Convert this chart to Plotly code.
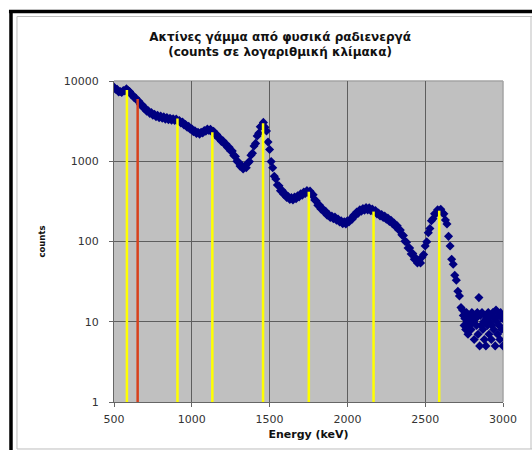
import plotly.graph_objects as go

# ---- data ----
energy_kev = [
    500, 510, 520, 530, 540, 550, 560, 570, 580, 590,
    600, 610, 620, 630, 640, 650, 660, 670, 680, 690,
    700, 710, 720, 730, 740, 750, 760, 770, 780, 790,
    800, 810, 820, 830, 840, 850, 860, 870, 880, 890,
    900, 910, 920, 930, 940, 950, 960, 970, 980, 990,
    1000, 1010, 1020, 1030, 1040, 1050, 1060, 1070, 1080, 1090,
    1100, 1110, 1120, 1130, 1140, 1150, 1160, 1170, 1180, 1190,
    1200, 1210, 1220, 1230, 1240, 1250, 1260, 1270, 1280, 1290,
    1300, 1310, 1320, 1330, 1340, 1350, 1360, 1370, 1380, 1390,
    1400, 1410, 1420, 1430, 1440, 1450, 1460, 1470, 1480, 1490,
    1500, 1510, 1520, 1530, 1540, 1550, 1560, 1570, 1580, 1590,
    1600, 1610, 1620, 1630, 1640, 1650, 1660, 1670, 1680, 1690,
    1700, 1710, 1720, 1730, 1740, 1750, 1760, 1770, 1780, 1790,
    1800, 1810, 1820, 1830, 1840, 1850, 1860, 1870, 1880, 1890,
    1900, 1910, 1920, 1930, 1940, 1950, 1960, 1970, 1980, 1990,
    2000, 2010, 2020, 2030, 2040, 2050, 2060, 2070, 2080, 2090,
    2100, 2110, 2120, 2130, 2140, 2150, 2160, 2170, 2180, 2190,
    2200, 2210, 2220, 2230, 2240, 2250, 2260, 2270, 2280, 2290,
    2300, 2310, 2320, 2330, 2340, 2350, 2360, 2370, 2380, 2390,
    2400, 2410, 2420, 2430, 2440, 2450, 2460, 2470, 2480, 2490,
    2500, 2510, 2520, 2530, 2540, 2550, 2560, 2570, 2580, 2590,
    2600, 2610, 2620, 2630, 2640, 2650, 2660, 2670, 2680, 2690,
    2700, 2710, 2720, 2730, 2740,
    2745, 2750, 2755, 2760, 2765, 2770, 2775, 2780, 2785, 2790,
    2795, 2800, 2805, 2810, 2815, 2820, 2825, 2830, 2835, 2840,
    2845, 2850, 2855, 2860, 2865, 2870, 2875, 2880, 2885, 2890,
    2895, 2900, 2905, 2910, 2915, 2920, 2925, 2930, 2935, 2940,
    2945, 2950, 2955, 2960, 2965, 2970, 2975, 2980, 2985, 2990,
    2995, 3000,
]
counts = [
    8400, 7900, 7900, 7300, 7400, 7200, 7600, 7500, 8000, 7600,
    7400, 6800, 6700, 6200, 6150, 5700, 5600, 5100, 5050, 4600,
    4600, 4200, 4250, 3950, 4050, 3750, 3850, 3600, 3750, 3500,
    3650, 3430, 3570, 3350, 3500, 3300, 3430, 3250, 3380, 3230,
    3350, 3150, 3220, 3000, 3080, 2830, 2870, 2650, 2720, 2500,
    2540, 2340, 2400, 2220, 2300, 2180, 2300, 2250, 2410, 2360,
    2520, 2420, 2510, 2320, 2360, 2150, 2150, 1950, 1950, 1770,
    1800, 1640, 1640, 1480, 1490, 1340, 1340, 1180, 1150, 1000,
    980, 870, 890, 800, 860, 830, 950, 990, 1190, 1260,
    1550, 1670, 2070, 2230, 2690, 2760, 3050, 2660, 2380, 1740,
    1400, 990, 830, 650, 600, 505, 495, 430, 435, 388,
    393, 354, 362, 333, 352, 330, 357, 342, 372, 360,
    393, 378, 414, 398, 430, 403, 424, 383, 383, 330,
    320, 282, 284, 254, 258, 233, 238, 213, 217, 199,
    207, 192, 202, 184, 191, 175, 181, 167, 176, 165,
    181, 175, 191, 189, 212, 209, 233, 226, 248, 239,
    258, 246, 264, 248, 263, 242, 253, 233, 243, 221,
    227, 208, 217, 199, 207, 189, 196, 178, 184, 167,
    170, 153, 157, 139, 139, 121, 119, 101, 98, 83,
    83, 70, 71, 60, 62, 54, 57, 54, 64, 69,
    88, 99, 129, 145, 181, 192, 222, 224, 248, 240,
    252, 228, 221, 185, 165, 116, 88, 60, 52, 38,
    33, 24, 21, 15, 14,
    12, 9, 11, 8, 13, 10, 7, 12, 9, 11,
    8, 13, 10, 10, 6, 12, 11, 9, 13, 7,
    20, 5, 12, 9, 13, 8, 10, 6, 12, 5,
    11, 9, 13, 7, 10, 12, 6, 9, 13, 8,
    11, 5, 14, 10, 7, 12, 9, 6, 13, 8,
    11, 5,
]

# vertical marker lines: natural-radioactivity gamma lines (yellow) and the red one
yellow_lines_kev = [583, 908, 1132, 1458, 1752, 2168, 2590]
yellow_tops = [7750, 3400, 2300, 2970, 417, 236, 242]
red_lines_kev = [652]
red_tops = [5970]

x_ticks = [500, 1000, 1500, 2000, 2500, 3000]
y_ticks = [1, 10, 100, 1000, 10000]
y_tick_text = ["1", "10", "100", "1000", "10000"]

title_text = "Ακτίνες γάμμα από φυσικά ραδιενεργά<br>(counts σε λογαριθμική κλίμακα)"
x_title = "Energy (keV)"
y_title = "counts"


def seg(xs, tops):
    px, py = [], []
    for xv, tv in zip(xs, tops):
        px += [xv, xv, None]
        py += [1, tv, None]
    return px, py


fig = go.Figure()
fig.add_trace(go.Scatter(
    x=energy_kev, y=counts, mode="markers",
    marker=dict(symbol="diamond", size=7, color="#000080", line=dict(width=0)),
    showlegend=False, hoverinfo="skip",
))
yx, yy = seg(yellow_lines_kev, yellow_tops)
fig.add_trace(go.Scatter(x=yx, y=yy, mode="lines",
                         line=dict(color="#FFFF00", width=2.5),
                         showlegend=False, hoverinfo="skip"))
rx, ry = seg(red_lines_kev, red_tops)
fig.add_trace(go.Scatter(x=rx, y=ry, mode="lines",
                         line=dict(color="#D8401C", width=2.5),
                         showlegend=False, hoverinfo="skip"))

FONT = "DejaVu Sans"
fig.update_layout(
    width=532, height=450,
    margin=dict(l=114, r=29, t=81, b=48),
    paper_bgcolor="white",
    plot_bgcolor="#C0C0C0",
    title=dict(text=title_text, x=0.427, xanchor="center", xref="paper",
               y=0.9094, yanchor="middle", yref="container",
               font=dict(family=FONT, size=12, color="#111", weight="bold")),
    font=dict(family=FONT, color="#222"),
)
fig.update_xaxes(
    range=[500, 3000], tickvals=x_ticks,
    showgrid=True, gridcolor="#5E5E5E", gridwidth=1,
    showline=True, linecolor="#666666", linewidth=1,
    ticks="outside", ticklen=4, tickcolor="#666666",
    tickfont=dict(family=FONT, size=11, color="#333"),
    ticklabelstandoff=3,
    zeroline=False,
    title=dict(text=x_title, standoff=5,
               font=dict(family=FONT, size=11, color="#111", weight="bold")),
)
fig.update_yaxes(
    type="log", range=[0, 4], tickvals=y_ticks, ticktext=y_tick_text,
    showgrid=True, gridcolor="#5E5E5E", gridwidth=1,
    showline=True, linecolor="#666666", linewidth=1,
    ticks="outside", ticklen=4, tickcolor="#666666",
    tickfont=dict(family=FONT, size=11, color="#333"),
    ticklabelstandoff=8,
    zeroline=False,
    title=dict(text=y_title, standoff=16,
               font=dict(family=FONT, size=8.5, color="#111", weight="bold")),
)

# light plot-area border on the top and right sides
for x0, x1, y0, y1 in [(0, 1, 1, 1), (1, 1, 0, 1)]:
    fig.add_shape(type="line", xref="paper", yref="paper",
                  x0=x0, x1=x1, y0=y0, y1=y1,
                  line=dict(color="#A4A4A4", width=1.5), layer="below")

# outer frame (black) and chart-area border (light gray)
fig.add_shape(type="line", xref="paper", yref="paper",
              x0=-0.2648, x1=-0.2648, y0=1.218, y1=-0.2,
              line=dict(color="black", width=3.5))
fig.add_shape(type="line", xref="paper", yref="paper",
              x0=-0.27, x1=1.2, y0=1.2165, y1=1.2165,
              line=dict(color="black", width=3.5))
for x0, x1, y0, y1 in [(-0.2494, -0.2494, -0.1464, 1.2009),
                       (-0.2494, 1.2, 1.2009, 1.2009),
                       (-0.2494, 1.2, -0.1464, -0.1464),
                       (1.072, 1.072, -0.1464, 1.2009)]:
    fig.add_shape(type="line", xref="paper", yref="paper",
                  x0=x0, x1=x1, y0=y0, y1=y1,
                  line=dict(color="#BDBDBD", width=1), layer="below")

# remove the page's default body margin so the 532x450 figure fills the window
fig.write_html(
    "out.html",
    config={"displayModeBar": False},
    post_script="document.body.style.margin='0';document.body.style.overflow='hidden';",
)
